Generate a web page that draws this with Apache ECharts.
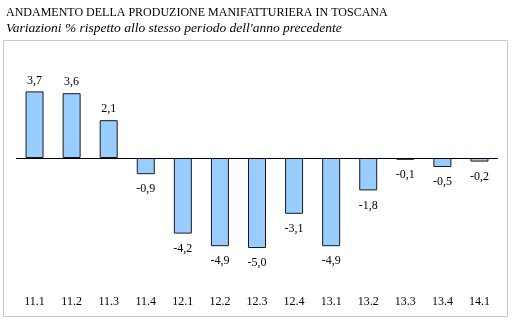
<!DOCTYPE html>
<html><head><meta charset="utf-8">
<script src="https://cdn.jsdelivr.net/npm/echarts@6/dist/echarts.min.js"></script>
<style>html,body{margin:0;padding:0;background:#fff}#c{width:513px;height:323px}</style>
</head><body><div id="c"></div>
<script>
const categories = ['11.1','11.2','11.3','11.4','12.1','12.2','12.3','12.4','13.1','13.2','13.3','13.4','14.1'];
const values = [3.7, 3.6, 2.1, -0.9, -4.2, -4.9, -5.0, -3.1, -4.9, -1.8, -0.1, -0.5, -0.2];
const titleText = 'ANDAMENTO DELLA PRODUZIONE MANIFATTURIERA IN TOSCANA';
const subText = "Variazioni % rispetto allo stesso periodo dell'anno precedente";

const chart = echarts.init(document.getElementById('c'), null, {renderer:'canvas'});
const font = '"Liberation Serif", "DejaVu Serif", serif';
chart.setOption({
  animation: false,
  title: {
    text: titleText, subtext: subText, left: 1, top: 2, itemGap: 2,
    textStyle: {fontFamily: font, fontSize: 12, fontWeight: 'normal', color: '#000'},
    subtextStyle: {fontFamily: font, fontSize: 13.5, fontStyle: 'italic', color: '#000'}
  },
  graphic: [{
    type: 'rect', shape: {x: 3.5, y: 40.5, width: 504, height: 276},
    style: {fill: 'none', stroke: '#c8c8c8', lineWidth: 1}, z: -1
  }],
  grid: {left: 16, right: 15, top: 68, height: 216},
  xAxis: {
    type: 'category', data: categories,
    axisLine: {show: false}, axisTick: {show: false},
    axisLabel: {fontFamily: font, fontSize: 12, color: '#000', margin: 12}
  },
  yAxis: {type: 'value', min: -7, max: 5, show: false, splitLine: {show: false}},
  series: [{
    type: 'bar', barWidth: 18,
    data: values.map(v => ({value: v, label: {position: v >= 0 ? 'top' : 'bottom', distance: v >= 0 ? 5 : 9}})),
    itemStyle: {color: '#99ccff', borderColor: '#1a1a1a', borderWidth: 1},
    label: {show: true, fontFamily: font, fontSize: 12, color: '#000',
      formatter: p => p.value.toFixed(1).replace('.', ',')},
    markLine: {
      silent: true, symbol: 'none', label: {show: false},
      lineStyle: {color: '#000', width: 1, type: 'solid'},
      data: [{yAxis: 0}]
    }
  }]
});
</script></body></html>
